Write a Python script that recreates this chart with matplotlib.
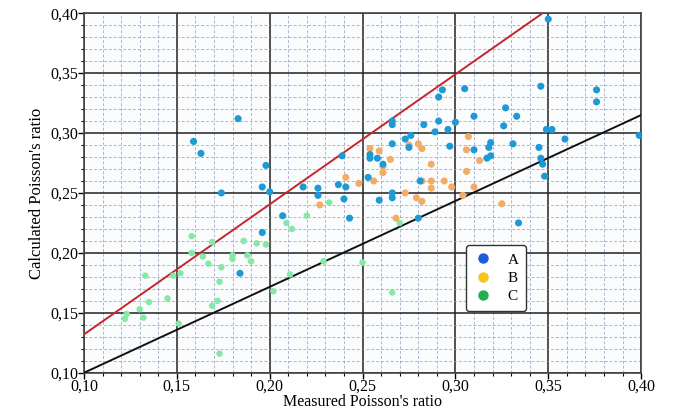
import matplotlib
matplotlib.use("Agg")
import matplotlib.pyplot as plt
from matplotlib.lines import Line2D
from matplotlib.ticker import MultipleLocator, FuncFormatter

# ---- data ----
a_x = [0.350, 0.183, 0.159, 0.163, 0.198, 0.196, 0.293, 0.291, 0.305, 0.346, 0.376, 0.376,
       0.266, 0.266, 0.283, 0.291, 0.300, 0.289, 0.296, 0.276, 0.273, 0.266, 0.297, 0.275,
       0.254, 0.254, 0.258, 0.261, 0.253, 0.239, 0.327, 0.310, 0.333, 0.326, 0.349, 0.352,
       0.399, 0.359, 0.319, 0.331, 0.345, 0.310, 0.318, 0.319, 0.317, 0.346, 0.347, 0.348,
       0.334, 0.174, 0.200, 0.218, 0.226, 0.226, 0.237, 0.241, 0.240, 0.207, 0.196, 0.184,
       0.243, 0.259, 0.266, 0.266, 0.281, 0.280]
a_y = [0.395, 0.312, 0.293, 0.283, 0.273, 0.255, 0.336, 0.330, 0.337, 0.339, 0.336, 0.326,
       0.310, 0.307, 0.307, 0.310, 0.309, 0.301, 0.303, 0.298, 0.295, 0.291, 0.289, 0.288,
       0.282, 0.279, 0.279, 0.274, 0.263, 0.281, 0.321, 0.314, 0.314, 0.306, 0.303, 0.303,
       0.298, 0.295, 0.292, 0.291, 0.288, 0.286, 0.288, 0.281, 0.279, 0.279, 0.274, 0.264,
       0.225, 0.250, 0.251, 0.255, 0.254, 0.248, 0.257, 0.255, 0.245, 0.231, 0.217, 0.183,
       0.229, 0.244, 0.250, 0.246, 0.260, 0.229]

b_x = [0.254, 0.259, 0.275, 0.280, 0.282, 0.265, 0.261, 0.261, 0.287, 0.241, 0.248, 0.256,
       0.287, 0.282, 0.294, 0.298, 0.287, 0.307, 0.306, 0.313, 0.306, 0.310, 0.304, 0.325,
       0.227, 0.273, 0.279, 0.282, 0.268]
b_y = [0.287, 0.285, 0.290, 0.291, 0.287, 0.278, 0.272, 0.267, 0.274, 0.263, 0.258, 0.260,
       0.260, 0.260, 0.260, 0.255, 0.254, 0.297, 0.286, 0.277, 0.268, 0.255, 0.248, 0.241,
       0.240, 0.250, 0.246, 0.243, 0.229]

c_x = [0.232, 0.220, 0.209, 0.212, 0.270, 0.158, 0.169, 0.186, 0.193, 0.198, 0.158, 0.164,
       0.180, 0.180, 0.188, 0.190, 0.167, 0.174, 0.133, 0.148, 0.152, 0.173, 0.202, 0.145,
       0.135, 0.172, 0.169, 0.130, 0.123, 0.122, 0.132, 0.151, 0.173, 0.229, 0.250, 0.211,
       0.266]
c_y = [0.242, 0.231, 0.225, 0.220, 0.225, 0.214, 0.209, 0.210, 0.208, 0.207, 0.200, 0.197,
       0.198, 0.195, 0.198, 0.193, 0.191, 0.188, 0.181, 0.181, 0.183, 0.176, 0.168, 0.162,
       0.159, 0.160, 0.156, 0.153, 0.149, 0.145, 0.146, 0.141, 0.116, 0.193, 0.192, 0.182,
       0.167]

red_line_x = [0.10, 0.347]
red_line_y = [0.132, 0.40]
black_line_x = [0.10, 0.40]
black_line_y = [0.10, 0.315]

legend_labels = ["A", "B", "C"]

# ---- figure ----
plt.rcParams['font.family'] = ['Liberation Serif', 'DejaVu Serif']
fig = plt.figure(figsize=(6.77, 4.11), dpi=100)
ax = fig.add_axes([0.124, 0.093, 0.823, 0.875])
ax.set_facecolor('#fbfcfe')

ax.set_xlim(0.10, 0.40)
ax.set_ylim(0.10, 0.40)
ax.xaxis.set_major_locator(MultipleLocator(0.05))
ax.yaxis.set_major_locator(MultipleLocator(0.05))
ax.xaxis.set_minor_locator(MultipleLocator(0.01))
ax.yaxis.set_minor_locator(MultipleLocator(0.01))
fmt = FuncFormatter(lambda v, p: f"{v:.2f}".replace('.', ','))
ax.xaxis.set_major_formatter(fmt)
ax.yaxis.set_major_formatter(fmt)

ax.grid(which='minor', color='#8c98b8', linestyle=(0, (3, 2)), linewidth=0.7, alpha=0.7)
ax.grid(which='major', color='#222222', linestyle='-', linewidth=1.1)
ax.set_axisbelow(True)

ax.tick_params(which='major', direction='out', length=4, width=1, labelsize=11.5, pad=0)
ax.tick_params(which='minor', direction='out', length=2.5, width=0.8)
for s in ax.spines.values():
    s.set_color('#444444')
    s.set_linewidth(1.2)

ax.plot(red_line_x, red_line_y, color='#c4262b', linewidth=1.4, zorder=3)
ax.plot(black_line_x, black_line_y, color='#111111', linewidth=1.4, zorder=3)

ax.scatter(c_x, c_y, s=22, color='#86e8a6', edgecolors='none', zorder=4)
ax.scatter(b_x, b_y, s=26, color='#f2ac66', edgecolors='none', zorder=4)
ax.scatter(a_x, a_y, s=26, color='#1d9ad6', edgecolors='none', zorder=5)

handles = [Line2D([0], [0], marker='o', linestyle='none', markersize=6.5, color=c)
           for c in ['#1a5fd6', '#f6c41a', '#22b04b']]
leg = ax.legend(handles, legend_labels, loc='lower left', bbox_to_anchor=(0.686, 0.172),
                fontsize=11, frameon=True, fancybox=True, edgecolor='#333333',
                handletextpad=1.0, borderpad=0.5, labelspacing=0.3, handlelength=1.2,
                borderaxespad=0)
leg.get_frame().set_linewidth(1.0)
leg.get_frame().set_facecolor('white')
leg.get_frame().set_alpha(1.0)

ax.set_xlabel("Measured Poisson's ratio", fontsize=11.5, labelpad=0)
ax.set_ylabel("Calculated Poisson's ratio", fontsize=12, labelpad=4)

fig.savefig("out.png", dpi=100)
